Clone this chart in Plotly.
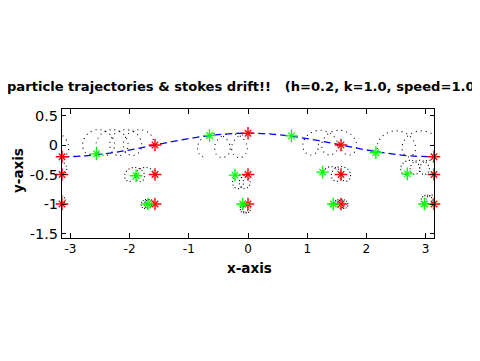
import plotly.graph_objects as go

# ---- data ----
wave_x = [-3.1416, -2.7489, -2.3562, -1.9635, -1.5708, -1.1781, -0.7854, -0.3927, 0.0,
          0.3927, 0.7854, 1.1781, 1.5708, 1.9635, 2.3562, 2.7489, 3.1416]
wave_y = [-0.200, -0.185, -0.141, -0.077, 0.000, 0.077, 0.141, 0.185, 0.200,
          0.185, 0.141, 0.077, 0.000, -0.077, -0.141, -0.185, -0.200]

red_x = [-3.1416, -1.5708, 0.0, 1.5708, 3.1416,
         -3.1416, -1.5708, 0.0, 1.5708, 3.1416,
         -3.1416, -1.5708, 0.0, 1.5708, 3.1416]
red_y = [-0.2, 0.0, 0.2, 0.0, -0.2,
         -0.5, -0.5, -0.5, -0.5, -0.5,
         -1.0, -1.0, -1.0, -1.0, -1.0]

green_x = [-2.56, -0.65, 0.735, 2.16, -1.89, -0.22, 1.26, 2.69, -1.69, -0.09, 1.44, 2.98]
green_y = [-0.15, 0.16, 0.155, -0.13, -0.52, -0.51, -0.46, -0.49, -1.0, -1.0, -1.0, -1.0]

# surface trajectories
s0_x = [-3.143, -3.048, -3.039, -3.154, -3.355]
s0_y = [-0.20, -0.136, 0.02, 0.176, 0.24]
s1_x = [-1.570, -1.661, -1.837, -2.014, -2.104, -2.071, -1.952, -1.832, -1.799, -1.889,
        -2.066, -2.243, -2.333, -2.300, -2.180, -2.061, -2.028, -2.118, -2.295, -2.471,
        -2.562, -2.529, -2.409, -2.290, -2.256, -2.347, -2.524, -2.700, -2.791, -2.758, -2.640]
s1_y = [0.00, 0.196, 0.26, 0.196, 0.04, -0.116, -0.18, -0.116, 0.04, 0.196,
        0.26, 0.196, 0.04, -0.116, -0.18, -0.116, 0.04, 0.196, 0.26, 0.196,
        0.04, -0.116, -0.18, -0.116, 0.04, 0.196, 0.26, 0.196, 0.04, -0.116, -0.17]
s2_x = [0.000, -0.177, -0.272, -0.249, -0.144, -0.039, -0.016, -0.111, -0.288, -0.465,
        -0.560, -0.537, -0.432, -0.327, -0.304, -0.399, -0.576, -0.753, -0.848, -0.825, -0.720]
s2_y = [0.195, 0.135, -0.01, -0.155, -0.215, -0.155, -0.01, 0.135, 0.195, 0.135,
        -0.01, -0.155, -0.215, -0.155, -0.01, 0.135, 0.195, 0.135, -0.01, -0.155, -0.215]
s3_x = [1.570, 1.592, 1.700, 1.808, 1.830, 1.728, 1.540, 1.352, 1.250, 1.272,
        1.380, 1.488, 1.510, 1.408, 1.220, 1.032, 0.930, 0.952, 1.060, 1.168, 1.190]
s3_y = [0.00, -0.108, -0.17, -0.108, 0.04, 0.188, 0.25, 0.188, 0.04, -0.108,
        -0.17, -0.108, 0.04, 0.188, 0.25, 0.188, 0.04, -0.108, -0.17, -0.108, 0.04]
s4_x = [3.140, 3.235, 3.244, 3.129, 2.928, 2.727, 2.612, 2.621, 2.716, 2.811,
        2.820, 2.705, 2.504, 2.303, 2.188, 2.197]
s4_y = [-0.20, -0.136, 0.02, 0.176, 0.24, 0.176, 0.02, -0.136, -0.20, -0.136,
        0.02, 0.176, 0.24, 0.176, 0.02, -0.136]

# trajectories starting at depth -0.5
m0_x = [-3.143, -3.078, -3.063, -3.118, -3.223]
m0_y = [-0.50, -0.465, -0.38, -0.295, -0.26]
m1_x = [-1.570, -1.628, -1.735, -1.843, -1.900, -1.888, -1.825, -1.763, -1.750,
        -1.808, -1.915, -2.023, -2.080, -2.068, -2.005, -1.943]
m1_y = [-0.50, -0.415, -0.38, -0.415, -0.50, -0.585, -0.62, -0.585, -0.50,
        -0.415, -0.38, -0.415, -0.50, -0.585, -0.62, -0.585]
m2_x = [0.000, -0.099, -0.148, -0.127, -0.056, 0.015, 0.036, -0.013, -0.112,
        -0.211, -0.260, -0.239, -0.168, -0.097, -0.076, -0.125, -0.224]
m2_y = [-0.50, -0.535, -0.62, -0.705, -0.74, -0.705, -0.62, -0.535, -0.50,
        -0.535, -0.62, -0.705, -0.74, -0.705, -0.62, -0.535, -0.50]
m3_x = [1.570, 1.585, 1.650, 1.715, 1.730, 1.675, 1.570, 1.465, 1.410,
        1.425, 1.490, 1.555, 1.570, 1.515, 1.410, 1.305, 1.250]
m3_y = [-0.49, -0.578, -0.615, -0.578, -0.49, -0.402, -0.365, -0.402, -0.49,
        -0.578, -0.615, -0.578, -0.49, -0.402, -0.365, -0.402, -0.49]
m4_x = [3.140, 3.205, 3.220, 3.165, 3.060, 2.955, 2.900, 2.915, 2.980, 3.045,
        3.060, 3.005, 2.900, 2.795, 2.740, 2.755, 2.820, 2.885, 2.900, 2.845,
        2.740, 2.635, 2.580, 2.595, 2.660]
m4_y = [-0.50, -0.465, -0.38, -0.295, -0.26, -0.295, -0.38, -0.465, -0.50, -0.465,
        -0.38, -0.295, -0.26, -0.295, -0.38, -0.465, -0.50, -0.465, -0.38, -0.295,
        -0.26, -0.295, -0.38, -0.465, -0.50]

# trajectories starting at depth -1
d0_x = [-3.143, -3.100, -3.088, -3.120, -3.183]
d0_y = [-1.00, -0.978, -0.925, -0.872, -0.85]
d1_x = [-1.570, -1.599, -1.659, -1.719, -1.748, -1.733, -1.687, -1.641, -1.626,
        -1.655, -1.715, -1.775, -1.804, -1.789, -1.743, -1.697, -1.682]
d1_y = [-1.00, -0.947, -0.925, -0.947, -1.00, -1.053, -1.075, -1.053, -1.00,
        -0.947, -0.925, -0.947, -1.00, -1.053, -1.075, -1.053, -1.00]
d2_x = [0.000, -0.059, -0.086, -0.070, -0.022, 0.025, 0.041, 0.014, -0.045,
        -0.103, -0.131, -0.115, -0.067, -0.020, -0.003, -0.031, -0.090]
d2_y = [-1.00, -1.022, -1.075, -1.128, -1.15, -1.128, -1.075, -1.022, -1.00,
        -1.022, -1.075, -1.128, -1.15, -1.128, -1.075, -1.022, -1.00]
d3_x = [1.570, 1.584, 1.629, 1.674, 1.688, 1.658, 1.597, 1.536, 1.506,
        1.520, 1.565, 1.610, 1.624, 1.594, 1.533, 1.472, 1.442]
d3_y = [-1.00, -1.053, -1.075, -1.053, -1.00, -0.947, -0.925, -0.947, -1.00,
        -1.053, -1.075, -1.053, -1.00, -0.947, -0.925, -0.947, -1.00]
d4_x = [3.140, 3.183, 3.195, 3.163, 3.100, 3.037, 3.005, 3.017, 3.060,
        3.103, 3.115, 3.083, 3.020, 2.957, 2.925, 2.937, 2.980]
d4_y = [-1.00, -0.978, -0.925, -0.872, -0.85, -0.872, -0.925, -0.978, -1.00,
        -0.978, -0.925, -0.872, -0.85, -0.872, -0.925, -0.978, -1.00]

x_ticks = [-3, -2, -1, 0, 1, 2, 3]
x_tick_text = ["-3", "-2", "-1", "0", "1", "2", "3"]
y_ticks = [-1.5, -1.0, -0.5, 0.0, 0.5]
y_tick_text = ["-1.5", "-1", "-0.5", "0", "0.5"]

title_text = "particle trajectories & stokes drift!!   (h=0.2, k=1.0, speed=1.0)"

# ---- figure ----
fig = go.Figure()

def dotted(x, y, dash):
    fig.add_trace(go.Scatter(
        x=x, y=y, mode="lines",
        line=dict(color="black", width=1.1, dash=dash, shape="spline", smoothing=1.0),
        hoverinfo="skip", showlegend=False))

for tx, ty in [(s0_x, s0_y), (s1_x, s1_y), (s2_x, s2_y), (s3_x, s3_y), (s4_x, s4_y)]:
    dotted(tx, ty, "1px,4px")
for tx, ty in [(m0_x, m0_y), (m1_x, m1_y), (m2_x, m2_y), (m3_x, m3_y), (m4_x, m4_y)]:
    dotted(tx, ty, "1px,2.5px")
for tx, ty in [(d0_x, d0_y), (d1_x, d1_y), (d2_x, d2_y), (d3_x, d3_y), (d4_x, d4_y)]:
    dotted(tx, ty, "1px,1.5px")

fig.add_trace(go.Scatter(
    x=wave_x, y=wave_y, mode="lines",
    line=dict(color="#0000ff", width=1.3, dash="7px,4px", shape="spline"),
    hoverinfo="skip", showlegend=False))

def stars(x, y, color):
    fig.add_trace(go.Scatter(
        x=x, y=y, mode="markers", cliponaxis=False,
        marker=dict(symbol="cross-thin-open", size=9, color=color,
                    line=dict(color=color, width=1.4)),
        hoverinfo="skip", showlegend=False))
    fig.add_trace(go.Scatter(
        x=x, y=y, mode="markers", cliponaxis=False,
        marker=dict(symbol="x-thin-open", size=6.5, color=color,
                    line=dict(color=color, width=1.3)),
        hoverinfo="skip", showlegend=False))

stars(red_x, red_y, "#ff0000")
stars(green_x, green_y, "#00ff00")

# page has an 8px body margin: the figure starts at page pixel (8, 8)
OFF = 8
W, H = 480 - OFF, 361 - OFF
# plot area in page pixels: x 62..434, y 109..238
L, T = 62 - OFF, 109 - OFF
R = W - (434 - OFF)
B = H - (238 - OFF)
PW, PH = W - L - R, H - T - B

def px(xp):
    return (xp - OFF - L) / PW

def py(yp):
    return (H - B - (yp - OFF)) / PH

fig.update_layout(
    width=W, height=H,
    margin=dict(l=L, r=R, t=T, b=B, pad=0),
    paper_bgcolor="white", plot_bgcolor="white",
    showlegend=False,
    font=dict(family="DejaVu Sans", color="black"),
    xaxis=dict(range=[-3.1416, 3.1416], tickmode="array", tickvals=x_ticks,
               ticktext=x_tick_text, ticks="inside", ticklen=5, tickcolor="black",
               tickwidth=1, showline=True, linecolor="black", linewidth=1,
               mirror="ticks", showgrid=False, zeroline=False,
               tickfont=dict(family="DejaVu Sans", size=12, color="black")),
    yaxis=dict(range=[-1.576, 0.610], tickmode="array", tickvals=y_ticks,
               ticktext=y_tick_text, ticks="inside", ticklen=4, tickcolor="black",
               tickwidth=1, showline=True, linecolor="black", linewidth=1,
               mirror="ticks", showgrid=False, zeroline=False,
               tickfont=dict(family="DejaVu Sans", size=14.5, color="black")),
    annotations=[
        dict(text="<b>" + title_text + "</b>", xref="paper", yref="paper",
             x=px(5), y=py(87), xanchor="left", yanchor="middle", showarrow=False,
             font=dict(family="DejaVu Sans", size=13.1, color="black")),
        dict(text="<b>x-axis</b>", xref="paper", yref="paper",
             x=px(249.5), y=py(268.3), xanchor="center", yanchor="middle", showarrow=False,
             font=dict(family="DejaVu Sans", size=13.5, color="black")),
        dict(text="<b>y-axis</b>", xref="paper", yref="paper", textangle=-90,
             x=px(17.5), y=py(170.5), xanchor="center", yanchor="middle", showarrow=False,
             font=dict(family="DejaVu Sans", size=13.5, color="black")),
    ],
)

fig.write_html("out.html")
